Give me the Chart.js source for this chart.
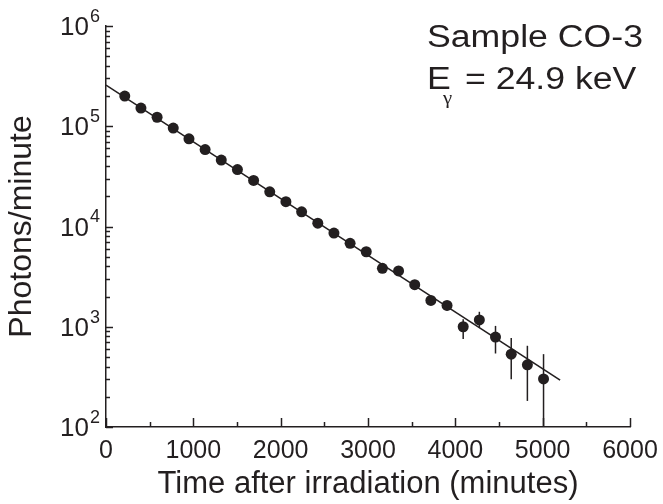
<!DOCTYPE html>
<html>
<head>
<meta charset="utf-8">
<script src="https://cdn.jsdelivr.net/npm/chart.js@4"></script>
<style>
  html, body { margin: 0; padding: 0; background: #fff; }
  #wrap { width: 663px; height: 504px; }
</style>
</head>
<body>
<div id="wrap"><canvas id="decay"></canvas></div>
<script>
// Sample CO-3, 24.9 keV line: counting points
const times = [215, 400, 585, 770, 950, 1135, 1320, 1505, 1690, 1875, 2060, 2240, 2425, 2610,
  2795, 2980, 3165, 3350, 3535, 3720, 3905, 4090, 4275, 4460, 4640, 4825, 5010];
const rates = [200000, 152000, 123000, 96000, 75000, 58500, 46000, 37000, 28800, 22200, 17700, 14000,
  10800, 8600, 6800, 5600, 3830, 3600, 2630, 1830, 1630, 1000, 1170, 789, 533, 417, 302];
// error bar ends (most are hidden under the markers)
const rateHi = [203000, 154500, 125000, 97700, 76500, 59700, 47000, 37900, 29500, 22800, 18200, 14400,
  11150, 8900, 7050, 5830, 4000, 3780, 2780, 1980, 1800, 1190, 1410, 1020, 771, 646, 533];
const rateLo = [197000, 149500, 121000, 94300, 73500, 57300, 45000, 36100, 28100, 21600, 17200, 13600,
  10450, 8300, 6550, 5370, 3660, 3420, 2480, 1680, 1450, 753, 985, 541, 300, 182, 60];

// exponential fit, drawn as a straight line on the log axis
const fitTimes = [0, 5200];
const fitRates = [257000, 293];

const xTickStep = 1000;
const xMinorStep = 500;
const decades = [2, 3, 4, 5, 6];

const INK = '#231f20';
const FONT = "'Liberation Sans', Arial, Helvetica, sans-serif";

const decor = {
  id: 'decor',
  beforeDatasetsDraw(chart) {
    const { ctx, chartArea: a, scales: { x, y } } = chart;
    ctx.save();
    ctx.beginPath();
    ctx.rect(a.left, a.top, a.right - a.left, a.bottom - a.top);
    ctx.clip();
    ctx.strokeStyle = INK;
    ctx.lineWidth = 1.5;
    times.forEach((t, i) => {
      const px = x.getPixelForValue(t);
      ctx.beginPath();
      ctx.moveTo(px, y.getPixelForValue(rateHi[i]));
      ctx.lineTo(px, y.getPixelForValue(rateLo[i]));
      ctx.stroke();
    });
    ctx.restore();
  },
  afterDraw(chart) {
    const { ctx, chartArea: a, scales: { x, y } } = chart;
    ctx.save();
    ctx.strokeStyle = INK;
    ctx.fillStyle = INK;
    ctx.lineWidth = 1.5;

    // inward ticks on the log axis
    decades.forEach(d => {
      for (let k = 1; k <= 9; k++) {
        if (d === 6 && k > 1) break;
        const py = Math.round(y.getPixelForValue(k * Math.pow(10, d))) + 0.5;
        ctx.beginPath();
        ctx.moveTo(a.left, py);
        ctx.lineTo(a.left + (k === 1 ? 7 : 4), py);
        ctx.stroke();
      }
    });
    // inward ticks on the time axis
    for (let v = x.min; v <= x.max; v += xMinorStep) {
      const px = Math.round(x.getPixelForValue(v)) + 0.5;
      ctx.beginPath();
      ctx.moveTo(px, a.bottom);
      ctx.lineTo(px, a.bottom - (v % xTickStep === 0 ? 9 : 5));
      ctx.stroke();
    }

    // 10^n labels
    ctx.textBaseline = 'middle';
    decades.forEach(d => {
      const py = y.getPixelForValue(Math.pow(10, d));
      ctx.font = '26px ' + FONT;
      ctx.textAlign = 'right';
      ctx.fillText('10', a.left - 17, py + 2);
      ctx.font = '18px ' + FONT;
      ctx.textAlign = 'left';
      ctx.fillText(String(d), a.left - 16, py - 9);
    });

    // sample annotation
    ctx.textBaseline = 'alphabetic';
    ctx.textAlign = 'left';
    ctx.translate(427, 0);
    ctx.scale(1.15, 1);
    ctx.font = '31px ' + FONT;
    ctx.fillText('Sample CO-3', 0, 47);
    ctx.fillText('E', 0, 89);
    ctx.font = "18px 'Liberation Serif', 'DejaVu Serif', serif";
    ctx.fillText('\u03b3', 14, 104);
    ctx.font = '31px ' + FONT;
    ctx.fillText('= 24.9 keV', 33, 89);
    ctx.restore();
  }
};

new Chart(document.getElementById('decay'), {
  type: 'scatter',
  data: {
    datasets: [
      {
        label: 'fit',
        data: fitTimes.map((t, i) => ({ x: t, y: fitRates[i] })),
        showLine: true,
        borderColor: INK,
        borderWidth: 1.6,
        pointRadius: 0,
      },
      {
        label: 'CO-3',
        data: times.map((t, i) => ({ x: t, y: rates[i] })),
        pointRadius: 5.5,
        pointBackgroundColor: INK,
        pointBorderWidth: 0,
      },
    ]
  },
  options: {
    responsive: true,
    maintainAspectRatio: false,
    animation: false,
    layout: { padding: { top: 26, right: 33, left: 0, bottom: 0 } },
    plugins: { legend: { display: false }, tooltip: { enabled: false } },
    scales: {
      x: {
        type: 'linear', min: 0, max: 6000,
        afterFit: s => { s.height = 77; },
        grid: { display: false },
        border: { display: true, color: INK, width: 1.5 },
        ticks: { stepSize: xTickStep, color: INK, padding: 1, maxRotation: 0, callback: v => String(v), font: { family: FONT, size: 25 } },
        title: { display: true, text: 'Time after irradiation (minutes)', color: INK, padding: { top: 0, bottom: 1 }, font: { family: FONT, size: 31 } }
      },
      y: {
        type: 'logarithmic', min: 100, max: 1000000,
        afterFit: s => { s.width = 106; },
        grid: { display: false },
        border: { display: true, color: INK, width: 1.5 },
        ticks: { display: false },
        title: { display: true, text: 'Photons/minute', color: INK, padding: { top: 3, bottom: 0 }, font: { family: FONT, size: 32 } }
      }
    }
  },
  plugins: [decor]
});
</script>
</body>
</html>
